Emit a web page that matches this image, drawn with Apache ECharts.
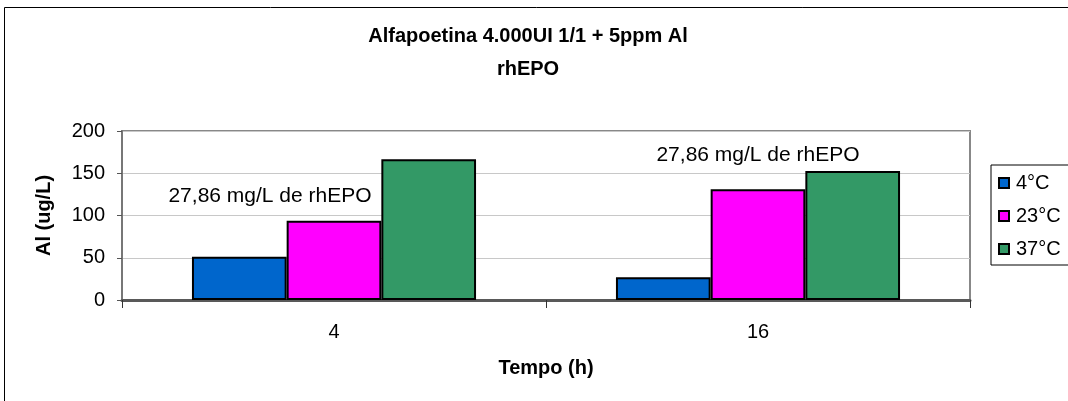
<!DOCTYPE html>
<html>
<head>
<meta charset="utf-8">
<script src="https://cdn.jsdelivr.net/npm/echarts@6/dist/echarts.min.js"></script>
<style>
  html, body { margin: 0; padding: 0; background: #fff; }
  #chart { width: 1068px; height: 401px; }
</style>
</head>
<body>
<div id="chart"></div>
<script>
// Aluminium concentration per storage temperature and incubation time
const categories = ['4', '16'];
const seriesNames = ['4°C', '23°C', '37°C'];
const values4C = [51.3, 26.8];
const values23C = [93.9, 131];
const values37C = [166.5, 152.7];
const seriesColors = ['#0066CC', '#FF00FF', '#339966'];
const yTicks = [0, 50, 100, 150, 200];
const noteText = '27,86 mg/L de rhEPO';
const noteValues = [123, 171.6];

const FONT = "'Liberation Sans', Arial, sans-serif";
const chart = echarts.init(document.getElementById('chart'), null, { renderer: 'canvas' });

const seriesData = [values4C, values23C, values37C];

const series = seriesNames.map((name, i) => ({
  name: name,
  type: 'bar',
  data: seriesData[i],
  barGap: '0%',
  barCategoryGap: '33%',
  itemStyle: { color: seriesColors[i], borderColor: '#000', borderWidth: 2 },
  emphasis: { disabled: true }
}));

const option = {
  animation: false,
  backgroundColor: '#fff',
  textStyle: { fontFamily: FONT, color: '#000' },
  title: {
    text: 'Alfapoetina 4.000UI 1/1 + 5ppm Al\nrhEPO',
    left: 528,
    textAlign: 'center',
    top: 20,
    padding: 0,
    textStyle: { fontFamily: FONT, fontSize: 20, fontWeight: 'bold', color: '#000', lineHeight: 33 }
  },
  legend: {
    orient: 'vertical',
    left: 991,
    top: 165,
    padding: [8, 30, 6, 7],
    itemWidth: 10,
    itemHeight: 10,
    itemGap: 13,
    icon: 'rect',
    borderColor: '#000',
    borderWidth: 1,
    backgroundColor: '#fff',
    textStyle: { fontFamily: FONT, fontSize: 20, color: '#000', padding: [0, 0, 0, 2] },
    data: seriesNames
  },
  grid: {
    left: 122,
    right: 98,
    top: 131,
    bottom: 101,
    show: true,
    borderColor: '#888',
    borderWidth: 2,
    backgroundColor: 'transparent'
  },
  xAxis: {
    type: 'category',
    data: categories,
    name: 'Tempo (h)',
    nameLocation: 'middle',
    nameGap: 58,
    nameTextStyle: { fontFamily: FONT, fontSize: 20, fontWeight: 'bold', color: '#000' },
    axisLine: { lineStyle: { color: '#595959', width: 3 } },
    axisTick: { show: true, length: 8, lineStyle: { color: '#333', width: 1 } },
    axisLabel: { margin: 22, fontFamily: FONT, fontSize: 20, color: '#000' },
    splitLine: { show: false }
  },
  yAxis: {
    type: 'value',
    min: yTicks[0],
    max: yTicks[yTicks.length - 1],
    interval: yTicks[1] - yTicks[0],
    name: 'Al (ug/L)',
    nameLocation: 'middle',
    nameGap: 68,
    nameTextStyle: { fontFamily: FONT, fontSize: 20, fontWeight: 'bold', color: '#000' },
    axisLine: { show: true, lineStyle: { color: '#777', width: 2 } },
    axisTick: { show: true, length: 5, lineStyle: { color: '#555', width: 1 } },
    axisLabel: { margin: 17, fontFamily: FONT, fontSize: 20, color: '#000' },
    splitLine: { show: true, lineStyle: { color: '#c8c8c8', width: 1 } }
  },
  series: series
};

chart.setOption(option);

// Frame around the whole chart and the two text notes, placed through the axes' scales
const notes = categories.map((cat, i) => {
  const p = chart.convertToPixel({ gridIndex: 0 }, [cat, noteValues[i]]);
  return {
    type: 'text',
    silent: true,
    x: p[0] + (i === 0 ? -64 : 0),
    y: p[1],
    style: {
      text: noteText,
      fill: '#000',
      font: "21px 'Liberation Sans', Arial, sans-serif",
      align: 'center',
      verticalAlign: 'middle'
    }
  };
});

chart.setOption({
  graphic: [
    {
      type: 'rect',
      silent: true,
      z: -10,
      shape: { x: 4.5, y: 7.5, width: 1080, height: 410 },
      style: { fill: 'none', stroke: '#000', lineWidth: 1 }
    }
  ].concat(notes)
});
</script>
</body>
</html>
